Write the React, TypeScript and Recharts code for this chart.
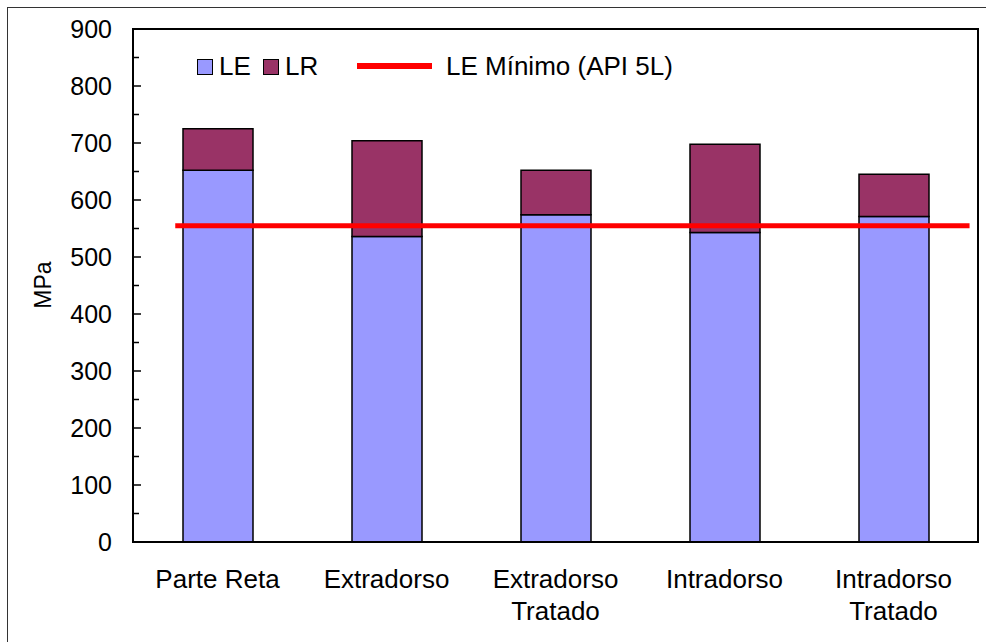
import React from 'react';
import {
    ComposedChart,
    Bar,
    Line,
    XAxis,
    YAxis,
    Legend,
    ReferenceArea
} from 'recharts';

const categories = ['Parte Reta', 'Extradorso', 'Extradorso\nTratado', 'Intradorso', 'Intradorso\nTratado'];
const leValues = [652, 536, 574, 543, 571];
const lrValues = [725, 704, 652, 698, 645];
const leMinimo = 555;
// extensão da linha do mínimo, em unidades de categoria
const leMinimoSpan = [0.25, 4.95];
const yTicks = [0, 50, 100, 150, 200, 250, 300, 350, 400, 450, 500, 550, 600, 650, 700, 750, 800, 850, 900];
const xMinorTicks = [0, 0.5, 1, 1.5, 2, 2.5, 3, 3.5, 4, 4.5, 5];

const FONT = 'Arial, "Liberation Sans", sans-serif';
const COLORS = { le: '#9999FF', lr: '#993366', min: '#FF0000' };

// LR é o total, a barra empilhada mostra só a diferença
const data = categories.map((name, i) => ({
    name,
    le: leValues[i],
    lr: lrValues[i] - leValues[i]
}));
const limitData = leMinimoSpan.map((x) => ({ x, y: leMinimo }));

const YTick = (props: any) => {
    const { x, y, payload } = props;
    const major = payload.value % 100 === 0;
    return (
        <g>
            <line x1={x} x2={x + (major ? 8 : 6)} y1={y} y2={y} stroke="#000" strokeWidth={1.5} />
            {major && (
                <text x={x - 21} y={y} dy="0.35em" textAnchor="end" fontSize={25} fontFamily={FONT} fill="#000">
                    {payload.value}
                </text>
            )}
        </g>
    );
};

const XTick = (props: any) => {
    const { x, y, payload } = props;
    const lines = String(payload.value).split('\n');
    return (
        <text x={x} y={y} textAnchor="middle" fontSize={26} fontFamily={FONT} fill="#000">
            {lines.map((l, i) => (
                <tspan key={i} x={x} dy={i === 0 ? 46 : 32}>{l}</tspan>
            ))}
        </text>
    );
};

const LegendBox = () => (
    <div style={{ position: 'relative', width: 986, height: 100, fontFamily: FONT, fontSize: 26, color: '#000' }}>
        <div style={{ position: 'absolute', left: 197, top: 59, width: 14, height: 14, background: COLORS.le, border: '1.5px solid #000' }} />
        <div style={{ position: 'absolute', left: 219, top: 51, lineHeight: '30px' }}>LE</div>
        <div style={{ position: 'absolute', left: 263, top: 59, width: 14, height: 14, background: COLORS.lr, border: '1.5px solid #000' }} />
        <div style={{ position: 'absolute', left: 285, top: 51, lineHeight: '30px' }}>LR</div>
        <div style={{ position: 'absolute', left: 357, top: 63, width: 75, height: 6, background: COLORS.min }} />
        <div style={{ position: 'absolute', left: 446, top: 51, lineHeight: '30px' }}>LE Mínimo (API 5L)</div>
    </div>
);

export default function App() {
    return (
        <div style={{ position: 'absolute', left: 0, top: 0, width: 986, height: 642, background: '#fff', overflow: 'hidden' }}>
            <div
                style={{
                    position: 'absolute',
                    left: 7,
                    top: 7,
                    width: 1000,
                    height: 700,
                    borderLeft: '1.5px solid #333',
                    borderTop: '1.5px solid #333'
                }}
            />
            <ComposedChart width={986} height={642} data={data} margin={{ top: 29, right: 8, bottom: 0, left: 8 }}>
                <XAxis
                    xAxisId="num"
                    type="number"
                    dataKey="x"
                    domain={[0, 5]}
                    ticks={xMinorTicks}
                    allowDataOverflow
                    mirror
                    height={0}
                    tick={false}
                    tickSize={6}
                    axisLine={false}
                    tickLine={{ stroke: '#000', strokeWidth: 1.2 }}
                />
                <XAxis
                    dataKey="name"
                    height={100}
                    interval={0}
                    tick={<XTick />}
                    tickLine={false}
                    tickSize={0}
                    tickMargin={0}
                    axisLine={{ stroke: '#000', strokeWidth: 2 }}
                />
                <YAxis
                    domain={[0, 900]}
                    ticks={yTicks}
                    interval={0}
                    width={125}
                    tick={<YTick />}
                    tickLine={false}
                    tickSize={0}
                    tickMargin={0}
                    axisLine={{ stroke: '#000', strokeWidth: 2 }}
                />
                <ReferenceArea
                    xAxisId="num"
                    x1={0}
                    x2={5}
                    y1={0}
                    y2={900}
                    fill="none"
                    stroke="#000"
                    strokeWidth={2}
                />
                <Bar dataKey="le" name="LE" stackId="a" fill={COLORS.le} stroke="#000" strokeWidth={1.5} barSize={70} isAnimationActive={false} />
                <Bar dataKey="lr" name="LR" stackId="a" fill={COLORS.lr} stroke="#000" strokeWidth={1.5} barSize={70} isAnimationActive={false} />
                <Line
                    xAxisId="num"
                    data={limitData}
                    dataKey="y"
                    name="LE Mínimo (API 5L)"
                    stroke={COLORS.min}
                    strokeWidth={5}
                    dot={false}
                    isAnimationActive={false}
                />
                <Legend
                    layout="horizontal"
                    verticalAlign="middle"
                    align="center"
                    content={<LegendBox />}
                    wrapperStyle={{ top: 0, left: 0, width: 986, height: 100 }}
                />
            </ComposedChart>
            <div
                style={{
                    position: 'absolute',
                    left: 43,
                    top: 285,
                    transform: 'translate(-50%, -50%) rotate(-90deg)',
                    fontFamily: FONT,
                    fontSize: 23,
                    color: '#000',
                    whiteSpace: 'nowrap'
                }}
            >
                MPa
            </div>
        </div>
    );
}
